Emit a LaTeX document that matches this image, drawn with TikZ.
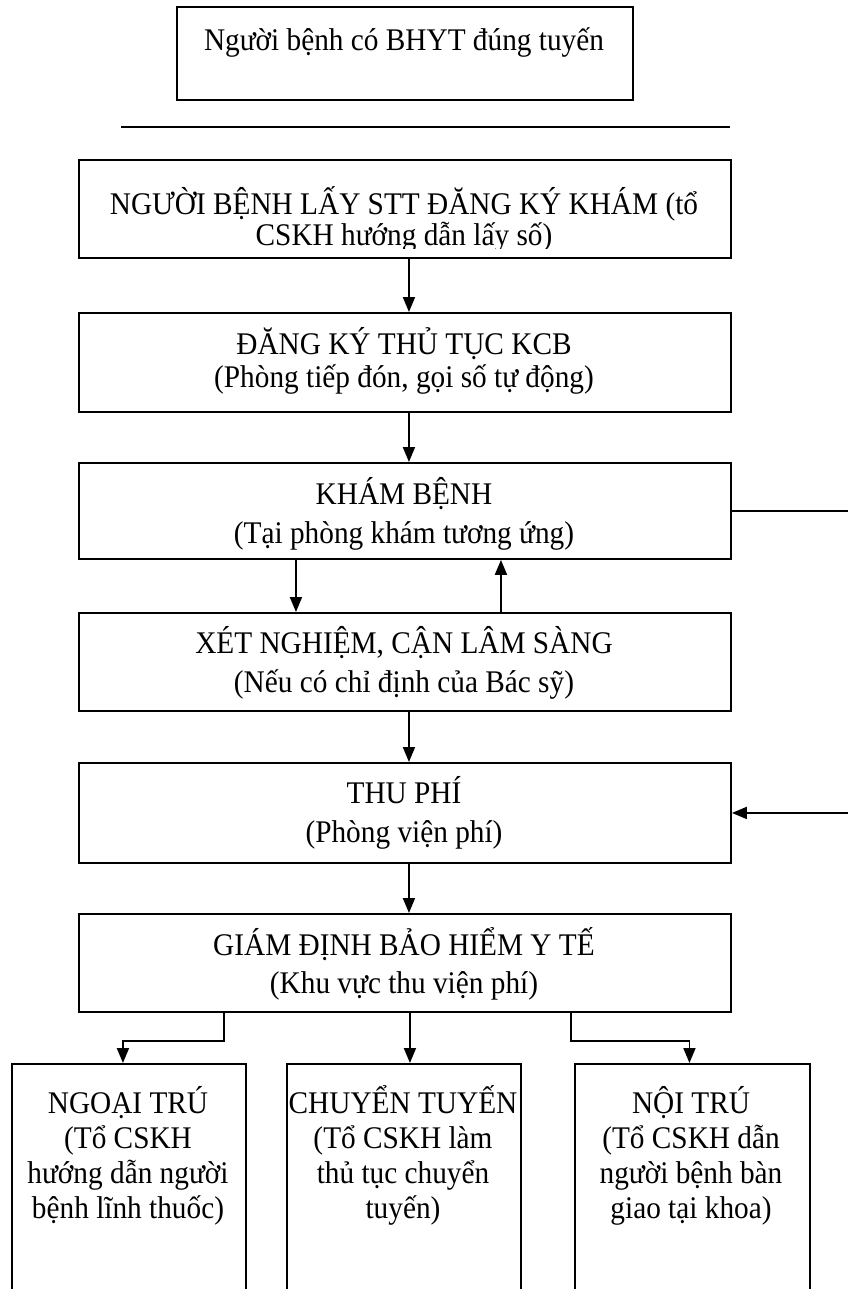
\documentclass[tikz,border=0pt]{standalone}
\usepackage{fontspec}
\setmainfont[FakeStretch=0.93]{Liberation Serif}
\usetikzlibrary{arrows.meta}
\begin{document}
\begin{tikzpicture}[x=1pt,y=-1pt,
  box/.style={draw, line width=1.9pt, inner sep=0pt, anchor=north west},
  % multi-line texts are placed by the baseline of their last line
  txt/.style={anchor=base, align=center, inner sep=0pt},
  fs/.style={font=\fontsize{31.5}{#1}\selectfont},
  flow/.style={line width=1.9pt, -{Triangle[length=15pt,width=12pt]}},
  link/.style={line width=1.9pt}]
\useasboundingbox (0,0) rectangle (847,1289);

% boxes
\node[box, minimum width=456pt, minimum height=93pt] (b0) at (176,6) {};
\node[box, minimum width=652pt, minimum height=98pt] (b1) at (78,159) {};
\node[box, minimum width=652pt, minimum height=99pt] (b2) at (78,312) {};
\node[box, minimum width=652pt, minimum height=96pt] (b3) at (78,462) {};
\node[box, minimum width=652pt, minimum height=98pt] (b4) at (78,612) {};
\node[box, minimum width=652pt, minimum height=100pt] (b5) at (78,762) {};
\node[box, minimum width=652pt, minimum height=98pt] (b6) at (78,913) {};
\node[box, minimum width=234pt, minimum height=260pt] (n1) at (11,1063) {};
\node[box, minimum width=234pt, minimum height=260pt] (n2) at (286,1063) {};
\node[box, minimum width=235pt, minimum height=260pt] (n3) at (574,1063) {};

% texts
\node[txt, fs=39] (t0) at (404,51) {Người bệnh có BHYT đúng tuyến};
\begin{scope}
  \clip (78,159) rectangle (730,248);
  \node[txt, fs=32] (t1) at (404,246) {NGƯỜI BỆNH LẤY STT ĐĂNG KÝ KHÁM (tổ\\CSKH hướng dẫn lấy số)};
\end{scope}
\node[txt, fs=33] (t2) at (404,387) {ĐĂNG KÝ THỦ TỤC KCB\\(Phòng tiếp đón, gọi số tự động)};
\node[txt, fs=39] (t3) at (404,543) {KHÁM BỆNH\\(Tại phòng khám tương ứng)};
\node[txt, fs=39] (t4) at (404,692) {XÉT NGHIỆM, CẬN LÂM SÀNG\\(Nếu có chỉ định của Bác sỹ)};
\node[txt, fs=39] (t5) at (404,842) {THU PHÍ\\(Phòng viện phí)};
\node[txt, fs=38] (t6) at (404,993) {GIÁM ĐỊNH BẢO HIỂM Y TẾ\\(Khu vực thu viện phí)};
\node[txt, fs=35] (u1) at (128,1218) {NGOẠI TRÚ\\(Tổ CSKH\\hướng dẫn người\\bệnh lĩnh thuốc)};
\node[txt, fs=35] (u2) at (403,1218) {CHUYỂN TUYẾN\\(Tổ CSKH làm\\thủ tục chuyển\\tuyến)};
\node[txt, fs=35] (u3) at (691,1218) {NỘI TRÚ\\(Tổ CSKH dẫn\\người bệnh bàn\\giao tại khoa)};

% separator rule
\coordinate (sl) at (121,127);
\coordinate (sr) at (730,127);
\draw[link] (sl) -- (sr);

% main flow
\draw[flow] ([xshift=4pt]b1.south) -- ([xshift=4pt]b2.north);
\draw[flow] ([xshift=4pt]b2.south) -- ([xshift=4pt]b3.north);
\draw[flow] ([xshift=-109pt]b3.south) -- ([xshift=-109pt]b4.north);
\draw[flow] ([xshift=96pt]b4.north) -- ([xshift=96pt]b3.south);
\draw[flow] ([xshift=4pt]b4.south) -- ([xshift=4pt]b5.north);
\draw[flow] ([xshift=4pt]b5.south) -- ([xshift=4pt]b6.north);

% side path from KHÁM BỆNH to THU PHÍ
\coordinate (rx) at (848.5,0);
\draw[flow] (b3.east) -- (b3.east -| rx) -- (b5.east -| rx) -- (b5.east);

% branches
\coordinate (lx) at (224,0);
\coordinate (mx) at (571,0);
\draw[flow] (b6.south -| lx) -- ++(0,28) -| ([xshift=-6pt]n1.north);
\draw[flow] ([xshift=5pt]b6.south) -- ([xshift=5pt]b6.south |- n2.north);
\draw[flow] (b6.south -| mx) -- ++(0,28) -| ([xshift=-3pt]n3.north);
\end{tikzpicture}
\end{document}
